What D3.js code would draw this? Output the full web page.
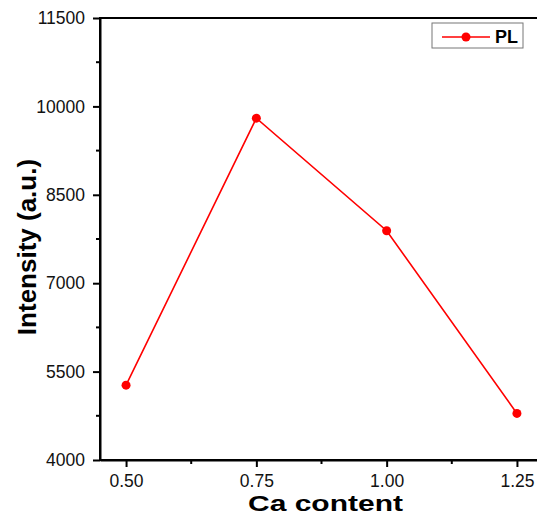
<!DOCTYPE html>
<html>
<head>
<meta charset="utf-8">
<script src="https://cdn.jsdelivr.net/npm/d3@7"></script>
<style>
body { margin: 0; background: #fff; }
text { font-family: "Liberation Sans", Arial, sans-serif; }
</style>
</head>
<body>
<div class="chart"></div>
<script>
var caContent = [0.50, 0.75, 1.00, 1.25];
var intensity = [5270, 9800, 7890, 4790];
var xTicks = [0.50, 0.75, 1.00, 1.25];
var yTicks = [4000, 5500, 7000, 8500, 10000, 11500];
var seriesName = "PL";

var width = 537, height = 515;
var plotL = 100, plotT = 18, plotR = 543, plotB = 460;

var svg = d3.select(".chart").append("svg")
    .attr("width", width)
    .attr("height", height);

var x = d3.scaleLinear().domain([0.45, 1.30]).range([plotL, plotR]);
var y = d3.scaleLinear().domain([4000, 11500]).range([plotB, plotT]);

// frame
svg.append("rect")
    .attr("x", plotL).attr("y", plotT)
    .attr("width", plotR - plotL).attr("height", plotB - plotT)
    .style("fill", "none").style("stroke", "black").style("stroke-width", "2px");

// minor ticks
var xMinor = [0.625, 0.875, 1.125];
var yMinor = [4750, 6250, 7750, 9250, 10750];

var xAxis = svg.append("g")
    .attr("transform", "translate(0," + plotB + ")")
    .call(d3.axisBottom(x).tickValues(xTicks).tickFormat(d3.format(".2f")).tickSizeInner(7).tickSizeOuter(0).tickPadding(8));
xAxis.append("g").selectAll("line").data(xMinor).enter().append("line")
    .attr("x1", x).attr("x2", x).attr("y1", 0).attr("y2", 4)
    .style("stroke", "black").style("stroke-width", "2px");

var yAxis = svg.append("g")
    .attr("transform", "translate(" + plotL + ",0)")
    .call(d3.axisLeft(y).tickValues(yTicks).tickFormat(d3.format("d")).tickSizeInner(7).tickSizeOuter(0).tickPadding(8));
yAxis.append("g").selectAll("line").data(yMinor).enter().append("line")
    .attr("y1", y).attr("y2", y).attr("x1", 0).attr("x2", -4)
    .style("stroke", "black").style("stroke-width", "2px");

svg.selectAll(".domain").style("stroke", "black").style("stroke-width", "2px");
svg.selectAll(".tick line").style("stroke-width", "2px");
svg.selectAll(".tick text")
    .attr("font-size", 17.5)
    .attr("font-family", "'Liberation Sans', Arial, sans-serif")
    .style("font-size", "17.5px")
    .style("fill", "#111");

// axis titles
svg.append("text")
    .text("Ca content")
    .attr("x", 248).attr("y", 511)
    .attr("textLength", 155)
    .attr("lengthAdjust", "spacingAndGlyphs")
    .style("font-size", "22px").style("font-weight", "bold");

svg.append("text")
    .text("Intensity (a.u.)")
    .attr("transform", "translate(36,247) rotate(-90)")
    .attr("text-anchor", "middle")
    .style("font-size", "26px").style("font-weight", "bold");

// series
var pts = caContent.map(function (d, i) { return [d, intensity[i]]; });
var line = d3.line().x(function (d) { return x(d[0]); }).y(function (d) { return y(d[1]); });

svg.append("path")
    .datum(pts)
    .attr("d", line)
    .style("fill", "none").style("stroke", "red").style("stroke-width", "1.6px");

svg.selectAll("circle.pt").data(pts).enter().append("circle")
    .attr("class", "pt")
    .attr("cx", function (d) { return x(d[0]); })
    .attr("cy", function (d) { return y(d[1]); })
    .attr("r", 4.5)
    .style("fill", "red");

// legend
var lg = svg.append("g").attr("transform", "translate(432,23)");
lg.append("rect")
    .attr("width", 91).attr("height", 25)
    .style("fill", "white").style("stroke", "#777").style("stroke-width", "1px");
lg.append("line")
    .attr("x1", 10).attr("x2", 58).attr("y1", 14).attr("y2", 14)
    .style("stroke", "red").style("stroke-width", "1.6px");
lg.append("circle")
    .attr("cx", 34).attr("cy", 14).attr("r", 4.5).style("fill", "red");
lg.append("text")
    .text(seriesName)
    .attr("x", 63).attr("y", 20)
    .style("font-size", "18px").style("font-weight", "bold");
</script>
</body>
</html>
